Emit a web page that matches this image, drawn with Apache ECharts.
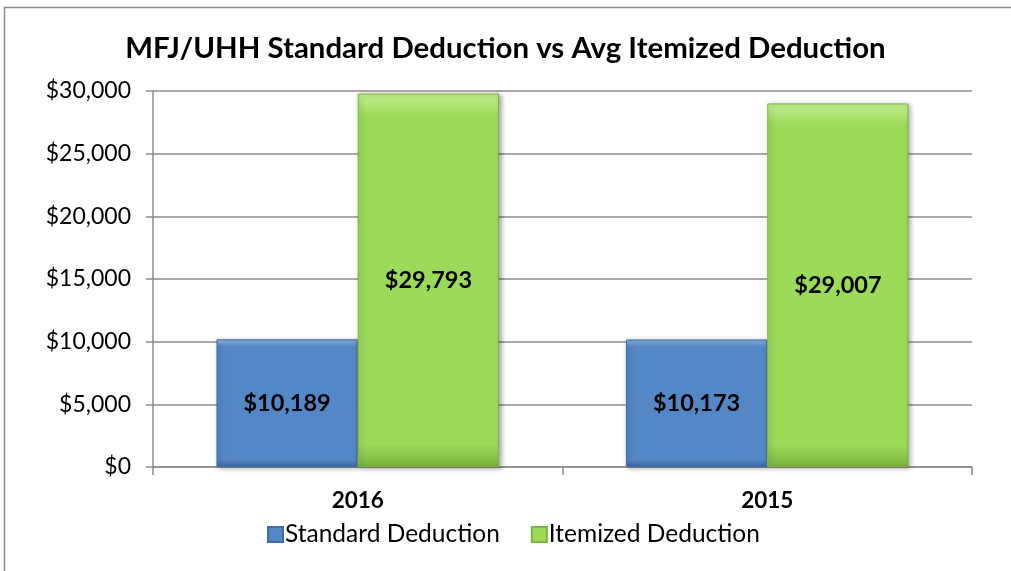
<!DOCTYPE html>
<html><head><meta charset="utf-8">
<script src="https://cdn.jsdelivr.net/npm/echarts@6/dist/echarts.min.js"></script>
<style>html,body{margin:0;padding:0;background:#fff}#c{width:1011px;height:571px}</style>
</head><body><div id="c"></div>
<script>
const titleText = 'MFJ/UHH Standard Deduction vs Avg Itemized Deduction';
const categories = ['2016', '2015'];
const standardDeduction = [10189, 10173];
const itemizedDeduction = [29793, 29007];
const seriesNames = ['Standard Deduction', 'Itemized Deduction'];
const yMin = 0, yMax = 30000, yStep = 5000;

const FONT = 'Lato, "Open Sans", sans-serif';
function money(v){ return '$' + Math.round(v).toLocaleString('en-US'); }
function grad(top, mid, bot){
  return new echarts.graphic.LinearGradient(0,0,0,1,[
    {offset:0, color:top},{offset:0.06, color:mid},{offset:0.94, color:mid},{offset:1, color:bot}]);
}
const chart = echarts.init(document.getElementById('c'), null, {renderer:'canvas'});
chart.setOption({
  animation:false,
  backgroundColor:'#fff',
  graphic:[{type:'rect', shape:{x:4.5,y:7.5,width:1100,height:700}, style:{fill:'none', stroke:'#8c8c8c', lineWidth:1.5}, silent:true}],
  title:{text:titleText, left:'center', top:29, textStyle:{fontFamily:FONT, fontWeight:'bold', fontSize:29.4, color:'#000'}},
  grid:{left:153, right:39, top:91, bottom:104},
  legend:{top:517, left:262, itemWidth:15, itemHeight:15, itemGap:31, icon:'rect',
    textStyle:{fontFamily:FONT, fontSize:24.5, color:'#000', padding:[0,0,0,-3]}, data:seriesNames},
  xAxis:{type:'category', data:categories,
    axisLine:{lineStyle:{color:'#8c8c8c', width:1.5}},
    axisTick:{show:true, length:8, lineStyle:{color:'#8c8c8c', width:1.5}},
    axisLabel:{fontFamily:FONT, fontSize:22.5, fontWeight:'bold', color:'#000', margin:22}},
  yAxis:{type:'value', min:yMin, max:yMax, interval:yStep,
    axisLine:{show:true, lineStyle:{color:'#8c8c8c', width:1.5}},
    axisTick:{show:true, length:7, lineStyle:{color:'#8c8c8c', width:1.5}},
    splitLine:{lineStyle:{color:'#8c8c8c', width:1.5}},
    axisLabel:{fontFamily:FONT, fontSize:23, color:'#000', margin:22, formatter:money}},
  series:[
    {name:seriesNames[0], type:'bar', data:standardDeduction, barGap:'0%', barCategoryGap:'31%',
      itemStyle:{color:grad('#8fb6e6','#5487c5','#3c6aa3'), borderColor:'#3f6ca6', borderWidth:1,
        shadowColor:'rgba(0,0,0,0.35)', shadowBlur:5, shadowOffsetX:2, shadowOffsetY:1},
      label:{show:true, position:'inside', formatter:p=>money(p.value), fontFamily:FONT, fontWeight:'bold', fontSize:23.5, color:'#000'}},
    {name:seriesNames[1], type:'bar', data:itemizedDeduction,
      itemStyle:{color:grad('#c4f08f','#9cda5a','#78b33c'), borderColor:'#7cb540', borderWidth:1,
        shadowColor:'rgba(0,0,0,0.35)', shadowBlur:5, shadowOffsetX:2, shadowOffsetY:1},
      label:{show:true, position:'inside', formatter:p=>money(p.value), fontFamily:FONT, fontWeight:'bold', fontSize:23.5, color:'#000'}}
  ]
});
</script></body></html>
